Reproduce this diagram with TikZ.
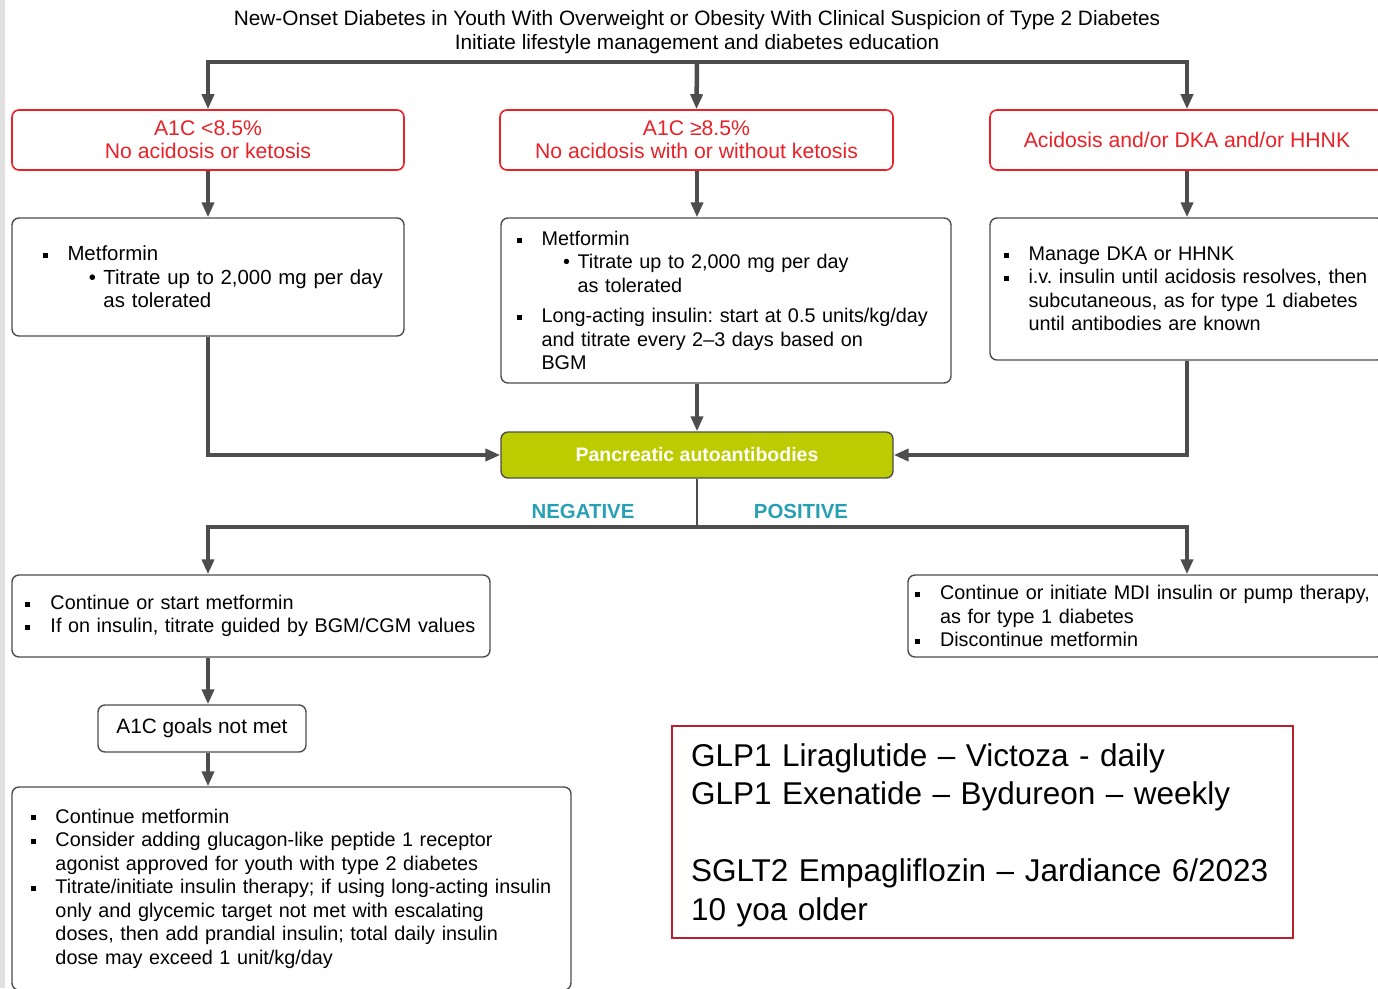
\documentclass[tikz,border=0pt]{standalone}
\usepackage{fontspec}
\setmainfont{Liberation Sans}
\usepackage{xcolor}
\usetikzlibrary{arrows.meta}
\frenchspacing

\definecolor{linegray}{RGB}{77,77,77}
\definecolor{alertred}{RGB}{232,34,40}
\definecolor{notered}{RGB}{190,30,45}
\definecolor{limegreen}{RGB}{189,204,0}
\definecolor{tealtext}{RGB}{40,160,180}
\definecolor{stripgray}{RGB}{224,224,224}

\newcommand{\sqb}{\makebox[25pt][l]{\rule[2.8pt]{5pt}{5pt}}}
\newcommand{\rdb}{\makebox[14.5pt][l]{\textbullet}}
\newcommand{\bline}[2]{\hspace*{#1}\mbox{#2}}

\begin{document}
\begin{tikzpicture}[x=1pt,y=-1pt,
  font=\fontsize{20.8}{24}\selectfont,
  rbox/.style={draw=alertred,line width=1.6pt,rounded corners=7pt,fill=white,text=alertred,align=center,inner sep=0pt,
    font=\fontsize{21.2}{23}\selectfont},
  gbox/.style={draw=linegray,line width=1.4pt,rounded corners=7pt,fill=white,align=left,inner sep=0pt,
    font=\fontsize{19.8}{23.5}\selectfont},
  conn/.style={draw=linegray,line width=4.5pt},
  arr/.style={conn,-{Triangle[length=15pt,width=12pt]}},
  arrs/.style={conn,{Triangle[length=15pt,width=12pt]}-{Triangle[length=15pt,width=12pt]}}]
  \useasboundingbox (0,0) rectangle (1378,988);
  \clip (0,0) rectangle (1378,988);
  \fill[stripgray] (0,0) rectangle (4.5,988);

  \node[align=center] (title) at (697,32) {New-Onset Diabetes in Youth With Overweight or Obesity With Clinical Suspicion of Type 2 Diabetes\\Initiate lifestyle management and diabetes education};

  \node[rbox,minimum width=392pt,minimum height=60pt] (low) at (208,140) {A1C <8.5\%\\No acidosis or ketosis};
  \node[rbox,minimum width=393pt,minimum height=60pt] (high) at (696.5,140) {A1C ≥8.5\%\\No acidosis with or without ketosis};
  \node[rbox,minimum width=394pt,minimum height=60pt] (dka) at (1187,140) {Acidosis and/or DKA and/or HHNK};

  \node[gbox,font=\fontsize{20.4}{23.5}\selectfont,text width=392pt,minimum height=118pt] (met) at (208,277) {%
    \bline{30.5pt}{\sqb Metformin}\\
    \bline{77pt}{\rdb Titrate up to 2,000 mg per day}\\
    \bline{91.5pt}{as tolerated}};
  \node[gbox,text width=450pt,minimum height=165pt] (metins) at (726,300.5) {%
    \bline{15.5pt}{\sqb Metformin}\\
    \bline{62pt}{\rdb Titrate up to 2,000 mg per day}\\
    \bline{76.5pt}{as tolerated}\\[7pt]
    \bline{15.5pt}{\sqb Long-acting insulin: start at 0.5 units/kg/day}\\
    \bline{40.5pt}{and titrate every 2–3 days based on}\\
    \bline{40.5pt}{BGM}};
  \node[gbox,text width=394pt,minimum height=142pt] (manage) at (1187,289) {%
    \bline{13.5pt}{\sqb Manage DKA or HHNK}\\
    \bline{13.5pt}{\sqb i.v. insulin until acidosis resolves, then}\\
    \bline{38.5pt}{subcutaneous, as for type 1 diabetes}\\
    \bline{38.5pt}{until antibodies are known}};

  \node[draw=linegray,line width=1.4pt,rounded corners=7pt,fill=limegreen,text=white,
    font=\fontsize{19.5}{23}\selectfont\bfseries,minimum width=392pt,minimum height=46pt] (panc) at (697,455) {Pancreatic autoantibodies};
  \coordinate (split) at (697,527);
  \node[text=tealtext,font=\fontsize{20.4}{23.5}\selectfont\bfseries] (negl) at (583,511) {NEGATIVE};
  \node[text=tealtext,font=\fontsize{20.4}{23.5}\selectfont\bfseries] (posl) at (801,511) {POSITIVE};

  \node[gbox,text width=478pt,minimum height=82pt] (cont) at (251,616) {%
    \bline{13.5pt}{\sqb Continue or start metformin}\\
    \bline{13.5pt}{\sqb If on insulin, titrate guided by BGM/CGM values}};
  \node[gbox,text width=476pt,minimum height=82pt] (mdi) at (1146,616) {%
    \bline{7pt}{\sqb Continue or initiate MDI insulin or pump therapy,}\\
    \bline{32pt}{as for type 1 diabetes}\\
    \bline{7pt}{\sqb Discontinue metformin}};
  \node[gbox,font=\fontsize{20.8}{24}\selectfont,align=center,minimum width=208pt,minimum height=47pt] (goals) at (202,728.5) {A1C goals not met};
  \node[gbox,text width=559pt,minimum height=203pt] (addon) at (291.5,888.5) {%
    \bline{18.5pt}{\sqb Continue metformin}\\
    \bline{18.5pt}{\sqb Consider adding glucagon-like peptide 1 receptor}\\
    \bline{43.5pt}{agonist approved for youth with type 2 diabetes}\\
    \bline{18.5pt}{\sqb Titrate/initiate insulin therapy; if using long-acting insulin}\\
    \bline{43.5pt}{only and glycemic target not met with escalating}\\
    \bline{43.5pt}{doses, then add prandial insulin; total daily insulin}\\
    \bline{43.5pt}{dose may exceed 1 unit/kg/day}};

  \node[draw=notered,line width=1.5pt,fill=white,align=left,text width=583pt,inner xsep=19pt,inner ysep=0pt,
    minimum height=212pt,font=\fontsize{31.5}{38.5}\selectfont] (note) at (982.5,832) {%
    \mbox{\rule{0pt}{29pt}GLP1 Liraglutide – Victoza - daily}\\
    \mbox{GLP1 Exenatide – Bydureon – weekly}\\[38.5pt]
    \mbox{SGLT2 Empagliflozin – Jardiance 6/2023}\\
    \mbox{10 yoa older}};

  \coordinate (bar) at (697,62);
  \draw[arrs] (low.north) |- (bar) -| (dka.north);
  \draw[arr] (bar) -- (high.north);
  \draw[arr] (low.south) -- (met.north -| low);
  \draw[arr] (high.south -| bar) -- (metins.north -| bar);
  \draw[arr] (dka.south) -- (manage.north -| dka);
  \draw[arr] (met.south) |- (panc.west);
  \draw[arr] (panc.north |- metins.south) -- (panc.north);
  \draw[arr] (manage.south) |- (panc.east);
  \draw[draw=linegray,line width=1.5pt] (panc.south) -- (split);
  \draw[arrs] (cont.north -| low) |- (split) -| (mdi.north -| dka);
  \draw[arr] (cont.south -| low) -- (goals.north -| low);
  \draw[arr] (goals.south -| low) -- (addon.north -| low);
\end{tikzpicture}
\end{document}
